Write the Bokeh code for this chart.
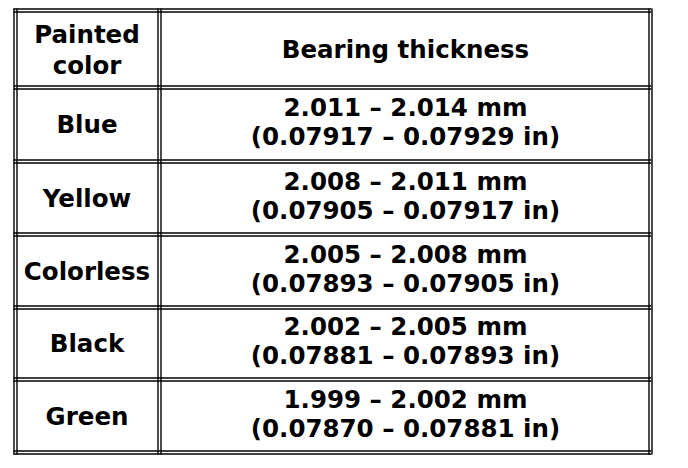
from bokeh.plotting import figure
from bokeh.models import ColumnDataSource, Range1d
from bokeh.core.properties import value
from bokeh.embed import file_html
from bokeh.resources import INLINE

# Données du tableau
painted = ["Blue", "Yellow", "Colorless", "Black", "Green"]
mm_low = [2.011, 2.008, 2.005, 2.002, 1.999]
mm_high = [2.014, 2.011, 2.008, 2.005, 2.002]
in_low = [0.07917, 0.07905, 0.07893, 0.07881, 0.07870]
in_high = [0.07929, 0.07917, 0.07905, 0.07893, 0.07881]
header_left = ["Painted", "color"]
header_right = "Bearing thickness"

# Mise en page (pixels de la page)
col_rules = [13, 157, 648]
row_rules = [8, 85, 159, 232, 305, 377, 450]
gap = 3
x_left, x_right = 13, 651
col_centers = [86.5, 405]
font = value("DejaVu Sans")
fsize = value("24.5px")
dy = -7  # décalage vertical du texte

W, H = 680, 460
p = figure(width=W, height=H, output_backend="svg", toolbar_location=None,
           x_range=Range1d(0, W), y_range=Range1d(H, 0),
           x_axis_location=None, y_axis_location=None, min_border=0)
p.grid.visible = False
p.outline_line_color = None
p.background_fill_color = "white"
p.border_fill_color = "white"

# Traits doubles
x0, y0, x1, y1 = [], [], [], []
for y in row_rules:
    for k in (0, gap):
        x0.append(x_left); x1.append(x_right)
        y0.append(y + k + 0.5); y1.append(y + k + 0.5)
for x in col_rules:
    for k in (0, gap):
        x0.append(x + k + 0.5); x1.append(x + k + 0.5)
        y0.append(row_rules[0]); y1.append(row_rules[-1] + gap + 1)
p.segment(x0=x0, y0=y0, x1=x1, y1=y1, line_color="black", line_width=1.4)

# Centres des lignes
centers = [(row_rules[i] + gap + row_rules[i + 1]) / 2 + dy for i in range(len(row_rules) - 1)]

# En-tête
hc = centers[0]
p.text(x=[col_centers[0]] * 2, y=[hc - 7.3, hc + 23.7], text=header_left,
       text_font=font, text_font_size=fsize, text_font_style="bold",
       text_align="center", text_baseline="alphabetic", text_color="black")
p.text(x=[col_centers[1]], y=[hc + 8], text=[header_right],
       text_font=font, text_font_size=fsize, text_font_style="bold",
       text_align="center", text_baseline="alphabetic", text_color="black")

# Corps du tableau
rc = centers[1:]
line1 = ["%.3f \u2013 %.3f mm" % (a, b) for a, b in zip(mm_low, mm_high)]
line2 = ["(%.5f \u2013 %.5f in)" % (a, b) for a, b in zip(in_low, in_high)]
src = ColumnDataSource(dict(
    xl=[col_centers[0]] * len(painted), yl=[c + 7.5 for c in rc], name=painted,
    xr=[col_centers[1]] * len(painted),
    y1=[c - 9.5 for c in rc], y2=[c + 19.5 for c in rc],
    l1=line1, l2=line2))
for xcol, ycol, tcol in [("xl", "yl", "name"), ("xr", "y1", "l1"), ("xr", "y2", "l2")]:
    p.text(x=xcol, y=ycol, text=tcol, source=src,
           text_font=font, text_font_size=fsize, text_font_style="bold",
           text_align="center", text_baseline="alphabetic", text_color="black")

open("out.html", "w").write(file_html(p, INLINE))
